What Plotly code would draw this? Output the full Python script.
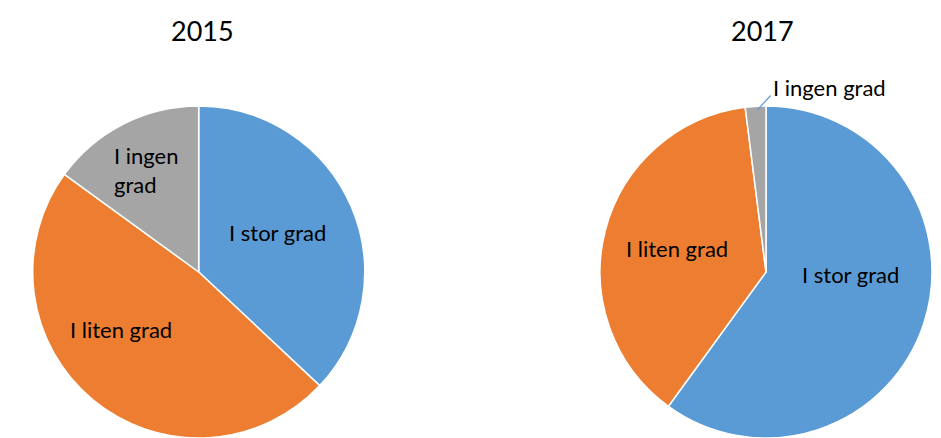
import plotly.graph_objects as go

labels = ["I stor grad", "I liten grad", "I ingen grad"]
values_2015 = [37, 48, 15]
values_2017 = [60, 38, 2]
years = ["2015", "2017"]
colors = ["#5B9BD5", "#ED7D31", "#A5A5A5"]

W, H = 941, 438
FONT = "Lato, 'Open Sans', sans-serif"

def px(x, y):
    return x / W, 1 - y / H

fig = go.Figure()
R = 166
for vals, cx, cy in [(values_2015, 198.7, 272), (values_2017, 766, 272)]:
    fig.add_trace(go.Pie(
        labels=labels, values=vals, sort=False, direction="clockwise", rotation=0,
        marker=dict(colors=colors, line=dict(color="white", width=1.5)),
        textinfo="none", hoverinfo="label+value", showlegend=False,
        domain=dict(x=[(cx - R) / W, (cx + R) / W], y=[1 - (cy + R) / H, 1 - (cy - R) / H]),
    ))

anns = []
# titles
for yr, x in zip(years, [202, 762]):
    ax, ay = px(x, 30)
    anns.append(dict(x=ax, y=ay, text=yr, showarrow=False, xref="paper", yref="paper",
                     xanchor="center", yanchor="middle",
                     font=dict(size=27, color="#000", family=FONT)))
# slice labels
label_pos = [
    (labels[0], 277.7, 232, "center"), (labels[1], 120.7, 329, "center"),
    ("I ingen<br>grad", 146, 170, "left"),
    (labels[1], 677, 248, "center"), (labels[0], 850, 274, "center"),
]
for t, x, y, al in label_pos:
    ax, ay = px(x, y)
    anns.append(dict(x=ax, y=ay, text=t, showarrow=False, xref="paper", yref="paper",
                     xanchor="center", yanchor="middle", align=al,
                     font=dict(size=22, color="#000", family=FONT)))
# outside label with leader line
anns.append(dict(x=757.3 / W, y=1 - 110 / H, ax=772 - 757.3, ay=94 - 110,
                 text="", showarrow=True, arrowhead=0, arrowwidth=1.2, arrowcolor="#5B9BD5",
                 xref="paper", yref="paper"))
tx, ty = px(771, 87)
anns.append(dict(x=tx, y=ty, text=labels[2], showarrow=False, xref="paper", yref="paper",
                 xanchor="left", yanchor="middle",
                 font=dict(size=22, color="#000", family=FONT)))

fig.update_layout(width=W, height=H, margin=dict(l=0, r=0, t=0, b=0),
                  paper_bgcolor="white", plot_bgcolor="white", annotations=anns,
                  font=dict(family=FONT))
fig.write_html("out.html")
